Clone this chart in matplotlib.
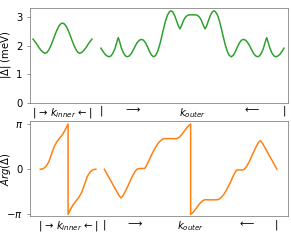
import matplotlib
matplotlib.use("Agg")
import matplotlib.pyplot as plt
import numpy as np

# 横坐标: inner 段 0..59, outer 段 68..251 (outer 中心 159.5)
# |Delta| inner
u_amp_inner = [0, 2, 4, 6, 8, 10, 12, 14, 16, 18, 20, 22, 24, 26, 28, 29.5,
               31, 33, 35, 37, 39, 41, 43, 45, 47, 49, 51, 53, 55, 57, 59]
amp_inner = [2.23, 2.14, 2.04, 1.93, 1.84, 1.77, 1.73, 1.76, 1.86, 2.01, 2.19, 2.38, 2.55, 2.69, 2.77, 2.79,
             2.77, 2.69, 2.55, 2.38, 2.19, 2.01, 1.86, 1.76, 1.73, 1.77, 1.84, 1.93, 2.04, 2.14, 2.23]

# |Delta| outer
u_amp_outer = [68, 70, 72, 74, 76, 78, 80, 82, 83.5, 84.5, 85.3, 86.1, 87.1, 88.6, 90.6, 92.5,
               94.3, 96.3, 98.3, 100.3, 102.3, 104.3, 106.3, 108.7, 110.5, 112.5, 114.5, 116.5, 118.5,
               120.5, 122.5, 124.5, 126.5, 128.5, 130.5, 132.5, 134.5, 136.5, 138, 139.5, 141.5, 143.5,
               145.5, 147, 148.5, 150.5, 152.5, 154.5, 156.5, 159.5,
               162.5, 164.5, 166.5, 168.5, 170.5, 172, 173.5, 175.5, 177.5, 179.5, 181, 182.5, 184.5,
               186.5, 188.5, 190.5, 192.5, 194.5, 196.5, 198.5, 200.5, 202.5, 204.5, 206.5, 208.5, 210.3,
               212.7, 214.7, 216.7, 218.7, 220.7, 222.7, 224.7, 226.5, 228.4, 230.4, 231.9, 232.9, 233.7,
               234.5, 235.5, 237, 239, 241, 243, 245, 247, 249, 251]
amp_outer = [1.91, 1.80, 1.70, 1.64, 1.61, 1.64, 1.74, 1.90, 2.08, 2.20, 2.28, 2.20, 2.08, 1.90, 1.74, 1.64,
             1.61, 1.64, 1.72, 1.85, 1.99, 2.11, 2.19, 2.22, 2.19, 2.10, 1.96, 1.80, 1.67,
             1.61, 1.65, 1.78, 2.00, 2.28, 2.58, 2.86, 3.07, 3.19, 3.22, 3.19, 3.07, 2.88,
             2.68, 2.59, 2.70, 2.88, 3.00, 3.06, 3.08, 3.08,
             3.08, 3.06, 3.00, 2.88, 2.70, 2.59, 2.68, 2.88, 3.07, 3.19, 3.22, 3.19, 3.07,
             2.86, 2.58, 2.28, 2.00, 1.78, 1.65, 1.61, 1.67, 1.80, 1.96, 2.10, 2.19, 2.22,
             2.19, 2.11, 1.99, 1.85, 1.72, 1.64, 1.61, 1.64, 1.74, 1.90, 2.08, 2.20, 2.28,
             2.20, 2.08, 1.90, 1.74, 1.64, 1.61, 1.64, 1.70, 1.80, 1.91]

# Arg(Delta) inner
u_phase_inner = [0, 3, 6, 9, 12, 15, 18, 21, 24, 27, 29.5, 29.5, 32, 35, 38, 41, 44, 47, 50, 53, 56, 59]
phase_inner = [0, 0.03, 0.18, 0.5, 1.05, 1.6, 1.95, 2.2, 2.45, 2.8, 3.14,
               -3.14, -2.8, -2.45, -2.2, -1.95, -1.6, -1.05, -0.5, -0.18, -0.03, 0]

# Arg(Delta) outer
u_phase_outer = [68, 71.8, 76.0, 80.3, 83.5, 85.6, 87.7, 90.9, 94.1, 97.2, 100.4, 102.5, 104.6, 107.8,
                 111.0, 114.2, 118.1, 121.6, 124.8, 126.9, 129.1, 131.2, 137.6, 144.6, 147.1, 149.9,
                 153.4, 156.6, 159.5, 159.5,
                 162.4, 165.6, 168.9, 171.9, 174.4, 181.4, 187.8, 189.9, 192.2, 194.4, 197.4, 200.9,
                 204.8, 208.0, 211.2, 214.4, 216.5, 218.6, 221.8, 224.9, 228.1, 231.3, 233.4, 235.5,
                 238.7, 242.9, 247.2, 251]
phase_outer = [0, -0.45, -0.95, -1.45, -1.82, -1.99, -1.85, -1.45, -1.0, -0.55, -0.17, 0.0, 0.05, 0.05,
               0.06, 0.45, 1.01, 1.45, 1.78, 1.94, 2.07, 2.12, 2.13, 2.12, 2.20, 2.40,
               2.70, 2.98, 3.14, -3.14,
               -2.98, -2.70, -2.40, -2.20, -2.12, -2.13, -2.12, -2.07, -1.94, -1.78, -1.45, -1.01,
               -0.45, -0.06, -0.05, -0.05, 0.0, 0.17, 0.55, 1.0, 1.45, 1.85, 1.99, 1.82,
               1.45, 0.95, 0.45, 0]

# x 轴标签
xtick_pos = [29.5, 68, 100, 159.5, 219, 251]
xtick_labels = ["| → $k_{inner}$ ← |", "|", "⟶", "$k_{outer}$", "⟵", "|"]

fig = plt.figure(figsize=(291/72, 242/72), dpi=72)
ax1 = fig.add_axes([0.102, 0.5756, 0.8866, 0.3926])
ax2 = fig.add_axes([0.102, 0.1062, 0.8866, 0.3926])

ax1.plot(u_amp_inner, amp_inner, color='tab:green', lw=1.5)
ax1.plot(u_amp_outer, amp_outer, color='tab:green', lw=1.5)
ax1.set_xlim(-3.3, 254.7)
ax1.set_ylim(0, 3.33)
ax1.set_yticks([0, 1, 2, 3])
ax1.set_ylabel(r"$|\Delta|$ (meV)")

ax2.plot(u_phase_inner, phase_inner, color='tab:orange', lw=1.5)
ax2.plot(u_phase_outer, phase_outer, color='tab:orange', lw=1.5)
ax2.set_xlim(-11.2, 262.4)
ax2.set_ylim(-3.27, 3.33)
ax2.set_yticks([-np.pi, 0, np.pi])
ax2.set_yticklabels([r"$-\pi$", "0", r"$\pi$"])
ax2.set_ylabel(r"$Arg(\Delta)$")

for ax in [ax1, ax2]:
    ax.set_xticks(xtick_pos)
    ax.set_xticklabels(xtick_labels)
    ax.tick_params(axis='x', length=0, pad=3)
    ax.tick_params(axis='y', color='gray')
    for s in ax.spines.values():
        s.set_color('gray')
    ax.yaxis.set_label_coords(-0.065, 0.5)

fig.savefig("out.png", dpi=72)
